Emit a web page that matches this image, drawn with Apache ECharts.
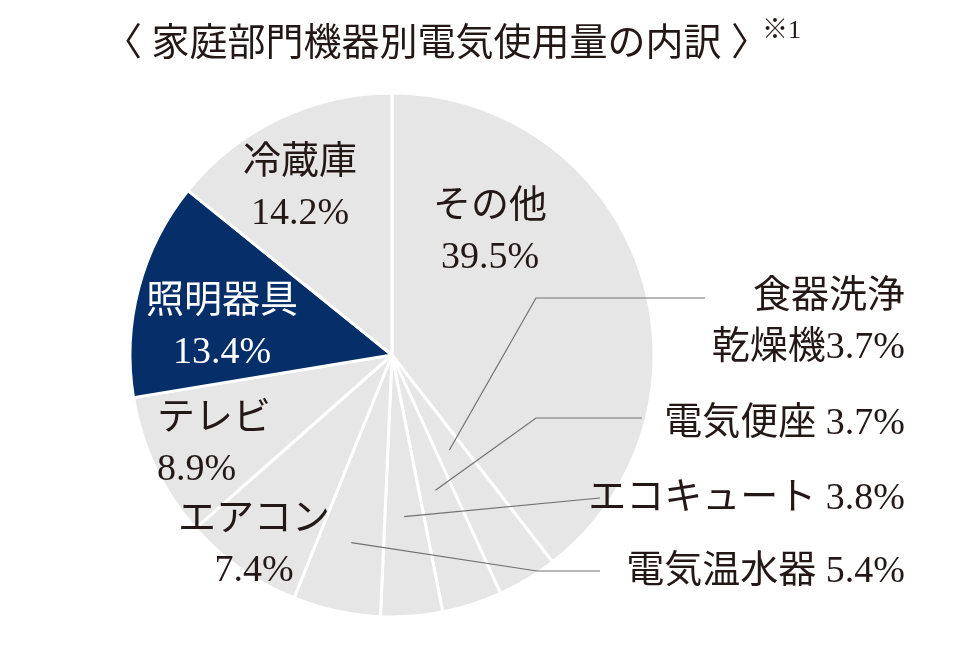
<!DOCTYPE html>
<html>
<head>
<meta charset="utf-8">
<script src="https://cdn.jsdelivr.net/npm/echarts@6/dist/echarts.min.js"></script>
<style>
html,body{margin:0;padding:0;background:#fff;}
#chart{width:960px;height:646px;}
</style>
</head>
<body>
<div id="chart"></div>
<script>
// ---- data ----
const categories = ['その他', '食器洗浄乾燥機', '電気便座', 'エコキュート', '電気温水器', 'エアコン', 'テレビ', '照明器具', '冷蔵庫'];
const values = [39.5, 3.7, 3.7, 3.8, 5.4, 7.4, 8.9, 13.4, 14.2];
const highlightIndex = 7;
const titleText = '〈 家庭部門機器別電気使用量の内訳 〉';
const noteText = '※1';

// ---- layout / style ----
const FONT = "'Liberation Serif','Noto Sans CJK JP',serif";
const TEXT = '#231815';
const GRAY = '#e6e6e6';
const NAVY = '#062f6a';
const LINE = '#707070';
const CX = 392, CY = 355, R = 262;

// label placement per slice
const labelPos = [
  {x: 490, y: 233, align: 'center', sep: '\n'},
  {x: 905, y: 323, align: 'right', wrapAt: 4, line: {r: 111, pts: [[536, 298], [705, 298]]}},
  {x: 905, y: 424, align: 'right', sep: ' ', line: {r: 142, pts: [[536, 418], [642, 418]]}},
  {x: 905, y: 499, align: 'right', sep: ' ', line: {r: 162, pts: [[600, 498], [600, 498]]}},
  {x: 905, y: 572, align: 'right', sep: ' ', line: {r: 192, pts: [[537, 571], [600, 571]]}},
  {x: 254, y: 546, align: 'center', sep: '\n'},
  {x: 157, y: 445, align: 'left', sep: '\n'},
  {x: 222, y: 328, align: 'center', sep: '\n'},
  {x: 300, y: 189, align: 'center', sep: '\n'}
];

const total = values.reduce((a, b) => a + b, 0);
const midAngles = [];
let acc = 0;
values.forEach(v => { midAngles.push((acc + v / 2) / total * 2 * Math.PI); acc += v; });

const sliceData = categories.map((name, i) => ({
  name: name,
  value: values[i],
  itemStyle: {color: i === highlightIndex ? NAVY : GRAY}
}));

const labelData = categories.map((name, i) => ({
  name: name,
  value: values[i],
  label: {color: i === highlightIndex ? '#ffffff' : TEXT, align: labelPos[i].align},
  labelLine: {show: !!labelPos[i].line}
}));

const chart = echarts.init(document.getElementById('chart'), null, {renderer: 'canvas'});
chart.setOption({
  backgroundColor: '#ffffff',
  animation: false,
  title: [
    {text: titleText, left: 99, top: 21,
     textStyle: {fontFamily: FONT, fontSize: 38, fontWeight: 'normal', color: TEXT}},
    {text: noteText, left: 757, top: 13,
     textStyle: {fontFamily: FONT, fontSize: 26, fontWeight: 'normal', color: TEXT}}
  ],
  series: [{
    type: 'pie',
    z: 2,
    center: [CX, CY],
    radius: [0, R],
    startAngle: 90,
    clockwise: true,
    silent: true,
    itemStyle: {borderColor: '#ffffff', borderWidth: 3},
    emphasis: {disabled: true},
    label: {show: false},
    labelLine: {show: false},
    data: sliceData
  }, {
    type: 'pie',
    z: 5,
    center: [CX, CY],
    radius: [0, R],
    startAngle: 90,
    clockwise: true,
    silent: true,
    avoidLabelOverlap: false,
    itemStyle: {color: 'rgba(0,0,0,0)', borderWidth: 0},
    emphasis: {disabled: true},
    label: {
      show: true,
      position: 'outside',
      fontFamily: FONT,
      fontSize: 38,
      lineHeight: 51,
      color: TEXT,
      formatter: function (p) {
        const lp = labelPos[p.dataIndex];
        if (lp.wrapAt) {
          return p.name.slice(0, lp.wrapAt) + '\n' + p.name.slice(lp.wrapAt) + p.value + '%';
        }
        return p.name + lp.sep + p.value + '%';
      }
    },
    labelLine: {show: true, lineStyle: {color: LINE, width: 1.2}},
    labelLayout: function (params) {
      const i = params.dataIndex;
      const lp = labelPos[i];
      const out = {x: lp.x, y: lp.y, align: lp.align, verticalAlign: 'middle'};
      if (lp.line) {
        const a = midAngles[i];
        const start = [CX + lp.line.r * Math.sin(a), CY - lp.line.r * Math.cos(a)];
        out.labelLinePoints = [start, lp.line.pts[0], lp.line.pts[1]];
      }
      return out;
    },
    data: labelData
  }]
});
</script>
</body>
</html>
